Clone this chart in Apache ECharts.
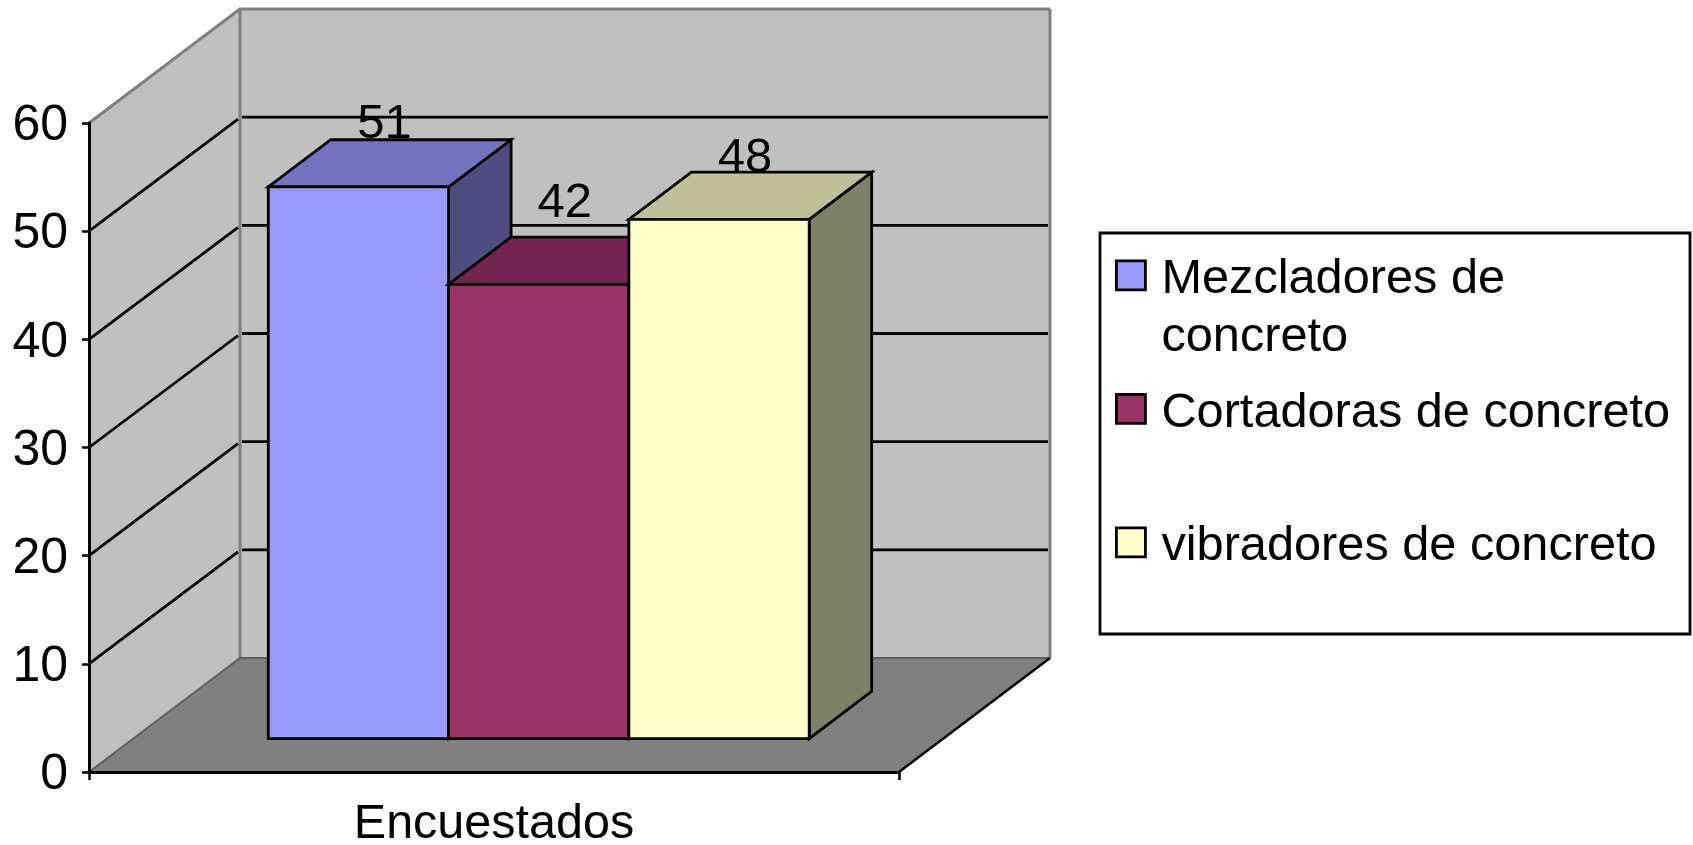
<!DOCTYPE html>
<html>
<head>
<meta charset="utf-8">
<style>
  html, body { margin: 0; padding: 0; background: #fff; }
  #chart { width: 1693px; height: 845px; }
</style>
<script src="https://cdn.jsdelivr.net/npm/echarts@6/dist/echarts.min.js"></script>
</head>
<body>
<div id="chart"></div>
<script>
// chart data
const categories = ['Encuestados'];
const seriesNames = ['Mezcladores de concreto', 'Cortadoras de concreto', 'vibradores de concreto'];
const mezcladores = [51];
const cortadoras = [42];
const vibradores = [48];
const yTicks = [0, 10, 20, 30, 40, 50, 60];

const FONT = '"Liberation Sans", Arial, sans-serif';
// oblique projection of the chart depth
const DEPTH_X = 151;
const DEPTH_Y = 114;
const BAR_DEPTH_FROM = 0.293;
const BAR_DEPTH_TO = 0.707;
const BAR_START = 0.1667;
const BAR_WIDTH = 0.2226;

function poly(points, fill, stroke, lineWidth) {
  return {
    type: 'polygon',
    shape: { points: points },
    style: { fill: fill, stroke: stroke, lineWidth: lineWidth, lineJoin: 'miter' }
  };
}

function seg(a, b, stroke, lineWidth) {
  return {
    type: 'line',
    shape: { x1: a[0], y1: a[1], x2: b[0], y2: b[1] },
    style: { stroke: stroke, lineWidth: lineWidth, lineCap: 'butt' }
  };
}

// walls, floor and gridlines of the fake 3d box
function renderWalls(params, api) {
  const band = api.size([1, 0])[0];
  const xl = api.coord([0, 0])[0] - band / 2;
  const xr = xl + band;
  const y = (v) => api.coord([0, v])[1];
  const y0 = y(0), yTop = y(yTicks[yTicks.length - 1]);
  const kids = [
    poly([[xl + DEPTH_X, yTop - DEPTH_Y], [xr + DEPTH_X, yTop - DEPTH_Y], [xr + DEPTH_X, y0 - DEPTH_Y], [xl + DEPTH_X, y0 - DEPTH_Y]], '#c0c0c0'),
    poly([[xl, yTop], [xl + DEPTH_X, yTop - DEPTH_Y], [xl + DEPTH_X, y0 - DEPTH_Y], [xl, y0]], '#c0c0c0'),
    poly([[xl, y0], [xr, y0], [xr + DEPTH_X, y0 - DEPTH_Y], [xl + DEPTH_X, y0 - DEPTH_Y]], '#808080')
  ];
  kids.push(seg([xl, yTop], [xl + DEPTH_X, yTop - DEPTH_Y], '#808080', 3));
  kids.push(seg([xl + DEPTH_X - 1, yTop - DEPTH_Y], [xr + DEPTH_X, yTop - DEPTH_Y], '#808080', 3));
  kids.push(seg([xr + DEPTH_X, yTop - DEPTH_Y], [xr + DEPTH_X, y0 - DEPTH_Y], '#808080', 3));
  kids.push(seg([xl + DEPTH_X, yTop - DEPTH_Y], [xl + DEPTH_X, y0 - DEPTH_Y], '#808080', 3));
  kids.push(seg([xl + DEPTH_X, y0 - DEPTH_Y], [xr + DEPTH_X, y0 - DEPTH_Y], '#606060', 2));
  kids.push(seg([xl, y0], [xl + DEPTH_X, y0 - DEPTH_Y], '#606060', 2));
  kids.push(seg([xr, y0], [xr + DEPTH_X, y0 - DEPTH_Y], '#000', 2.5));
  yTicks.slice(1, -1).forEach((v) => {
    kids.push(seg([xl, y(v)], [xl + DEPTH_X - 2, y(v) - DEPTH_Y + 2], '#000', 2.8));
    kids.push(seg([xl + DEPTH_X + 2, y(v) - DEPTH_Y], [xr + DEPTH_X - 2, y(v) - DEPTH_Y], '#000', 2.8));
  });
  return { type: 'group', children: kids };
}

function makeBar(idx, values, front, top, side, labelLift) {
  return {
    name: seriesNames[idx],
    type: 'custom',
    coordinateSystem: 'cartesian2d',
    clip: false,
    z: 3 + idx,
    itemStyle: { color: front },
    encode: { x: 0, y: 1 },
    data: values.map((v, i) => [i, v]),
    renderItem: function (params, api) {
      const band = api.size([1, 0])[0];
      const x0 = api.coord([api.value(0), 0])[0] - band / 2 + band * (BAR_START + idx * BAR_WIDTH);
      const x1 = x0 + band * BAR_WIDTH;
      const yBase = api.coord([api.value(0), 0])[1];
      const yVal = api.coord([api.value(0), api.value(1)])[1];
      const fx = DEPTH_X * BAR_DEPTH_FROM, fy = DEPTH_Y * BAR_DEPTH_FROM;
      const bx = DEPTH_X * BAR_DEPTH_TO, by = DEPTH_Y * BAR_DEPTH_TO;
      const lw = 2.8;
      return {
        type: 'group',
        children: [
          poly([[x1 + fx, yVal - fy], [x1 + bx, yVal - by], [x1 + bx, yBase - by], [x1 + fx, yBase - fy]], side, '#000', lw),
          poly([[x0 + fx, yVal - fy], [x1 + fx, yVal - fy], [x1 + bx, yVal - by], [x0 + bx, yVal - by]], top, '#000', lw),
          poly([[x0 + fx, yVal - fy], [x1 + fx, yVal - fy], [x1 + fx, yBase - fy], [x0 + fx, yBase - fy]], front, '#000', lw),
          {
            type: 'text',
            style: {
              text: String(api.value(1)),
              x: (x0 + x1) / 2 + fx + 26,
              y: yVal - by - labelLift,
              fill: '#000',
              font: '49px ' + FONT,
              align: 'center',
              verticalAlign: 'middle'
            }
          }
        ]
      };
    }
  };
}

const chart = echarts.init(document.getElementById('chart'));
chart.setOption({
  animation: false,
  backgroundColor: '#fff',
  grid: { left: 89, top: 123, width: 810, height: 649, outerBoundsMode: 'none' },
  graphic: [{
    type: 'rect',
    z: 0,
    shape: { x: 1100, y: 233, width: 590, height: 401 },
    style: { fill: '#fff', stroke: '#000', lineWidth: 2.8 }
  }],
  legend: {
    orient: 'vertical',
    left: 1115,
    top: 192.8,
    padding: 0,
    itemWidth: 29,
    itemHeight: 29,
    itemGap: -36,
    icon: 'rect',
    selectedMode: false,
    itemStyle: { borderColor: '#000', borderWidth: 2.8 },
    data: seriesNames,
    // every row is three lines so the name's first line stays level with the swatch
    formatter: function (name) {
      if (name === seriesNames[0]) return '{t| }\n{a|Mezcladores de}\n{a|concreto}';
      return '{t| }\n{a|' + name + '}\n{a| }';
    },
    textStyle: {
      color: '#000',
      fontFamily: FONT,
      fontSize: 48.7,
      padding: [0, 0, 0, 11],
      rich: {
        t: { fontFamily: FONT, fontSize: 48.7, lineHeight: 67 },
        a: { fontFamily: FONT, fontSize: 48.7, lineHeight: 58, color: '#000' }
      }
    }
  },
  xAxis: {
    type: 'category',
    data: categories,
    z: 10,
    axisLine: { lineStyle: { color: '#000', width: 3 } },
    axisTick: { show: true, length: 8, lineStyle: { color: '#000', width: 2.5 } },
    axisLabel: { color: '#000', fontFamily: FONT, fontSize: 48.5, margin: 28 },
    splitLine: { show: false }
  },
  yAxis: {
    type: 'value',
    min: yTicks[0],
    max: yTicks[yTicks.length - 1],
    interval: 10,
    z: 10,
    axisLine: { show: true, lineStyle: { color: '#000', width: 3 } },
    axisTick: { show: true, length: 7, lineStyle: { color: '#000', width: 2.5 } },
    axisLabel: { color: '#000', fontFamily: FONT, fontSize: 50, margin: 21, verticalAlign: 'top', lineHeight: 7 },
    splitLine: { show: false }
  },
  series: [
    {
      name: 'walls',
      type: 'custom',
      coordinateSystem: 'cartesian2d',
      clip: false,
      silent: true,
      z: 1,
      encode: { x: 0, y: 1 },
      data: [[0, 0]],
      renderItem: renderWalls
    },
    makeBar(0, mezcladores, '#9999ff', '#7373bf', '#4d4d80', 15),
    makeBar(1, cortadoras, '#993366', '#73264d', '#4d1a33', 34),
    makeBar(2, vibradores, '#ffffcc', '#bfbf99', '#808066', 14)
  ]
});
</script>
</body>
</html>
